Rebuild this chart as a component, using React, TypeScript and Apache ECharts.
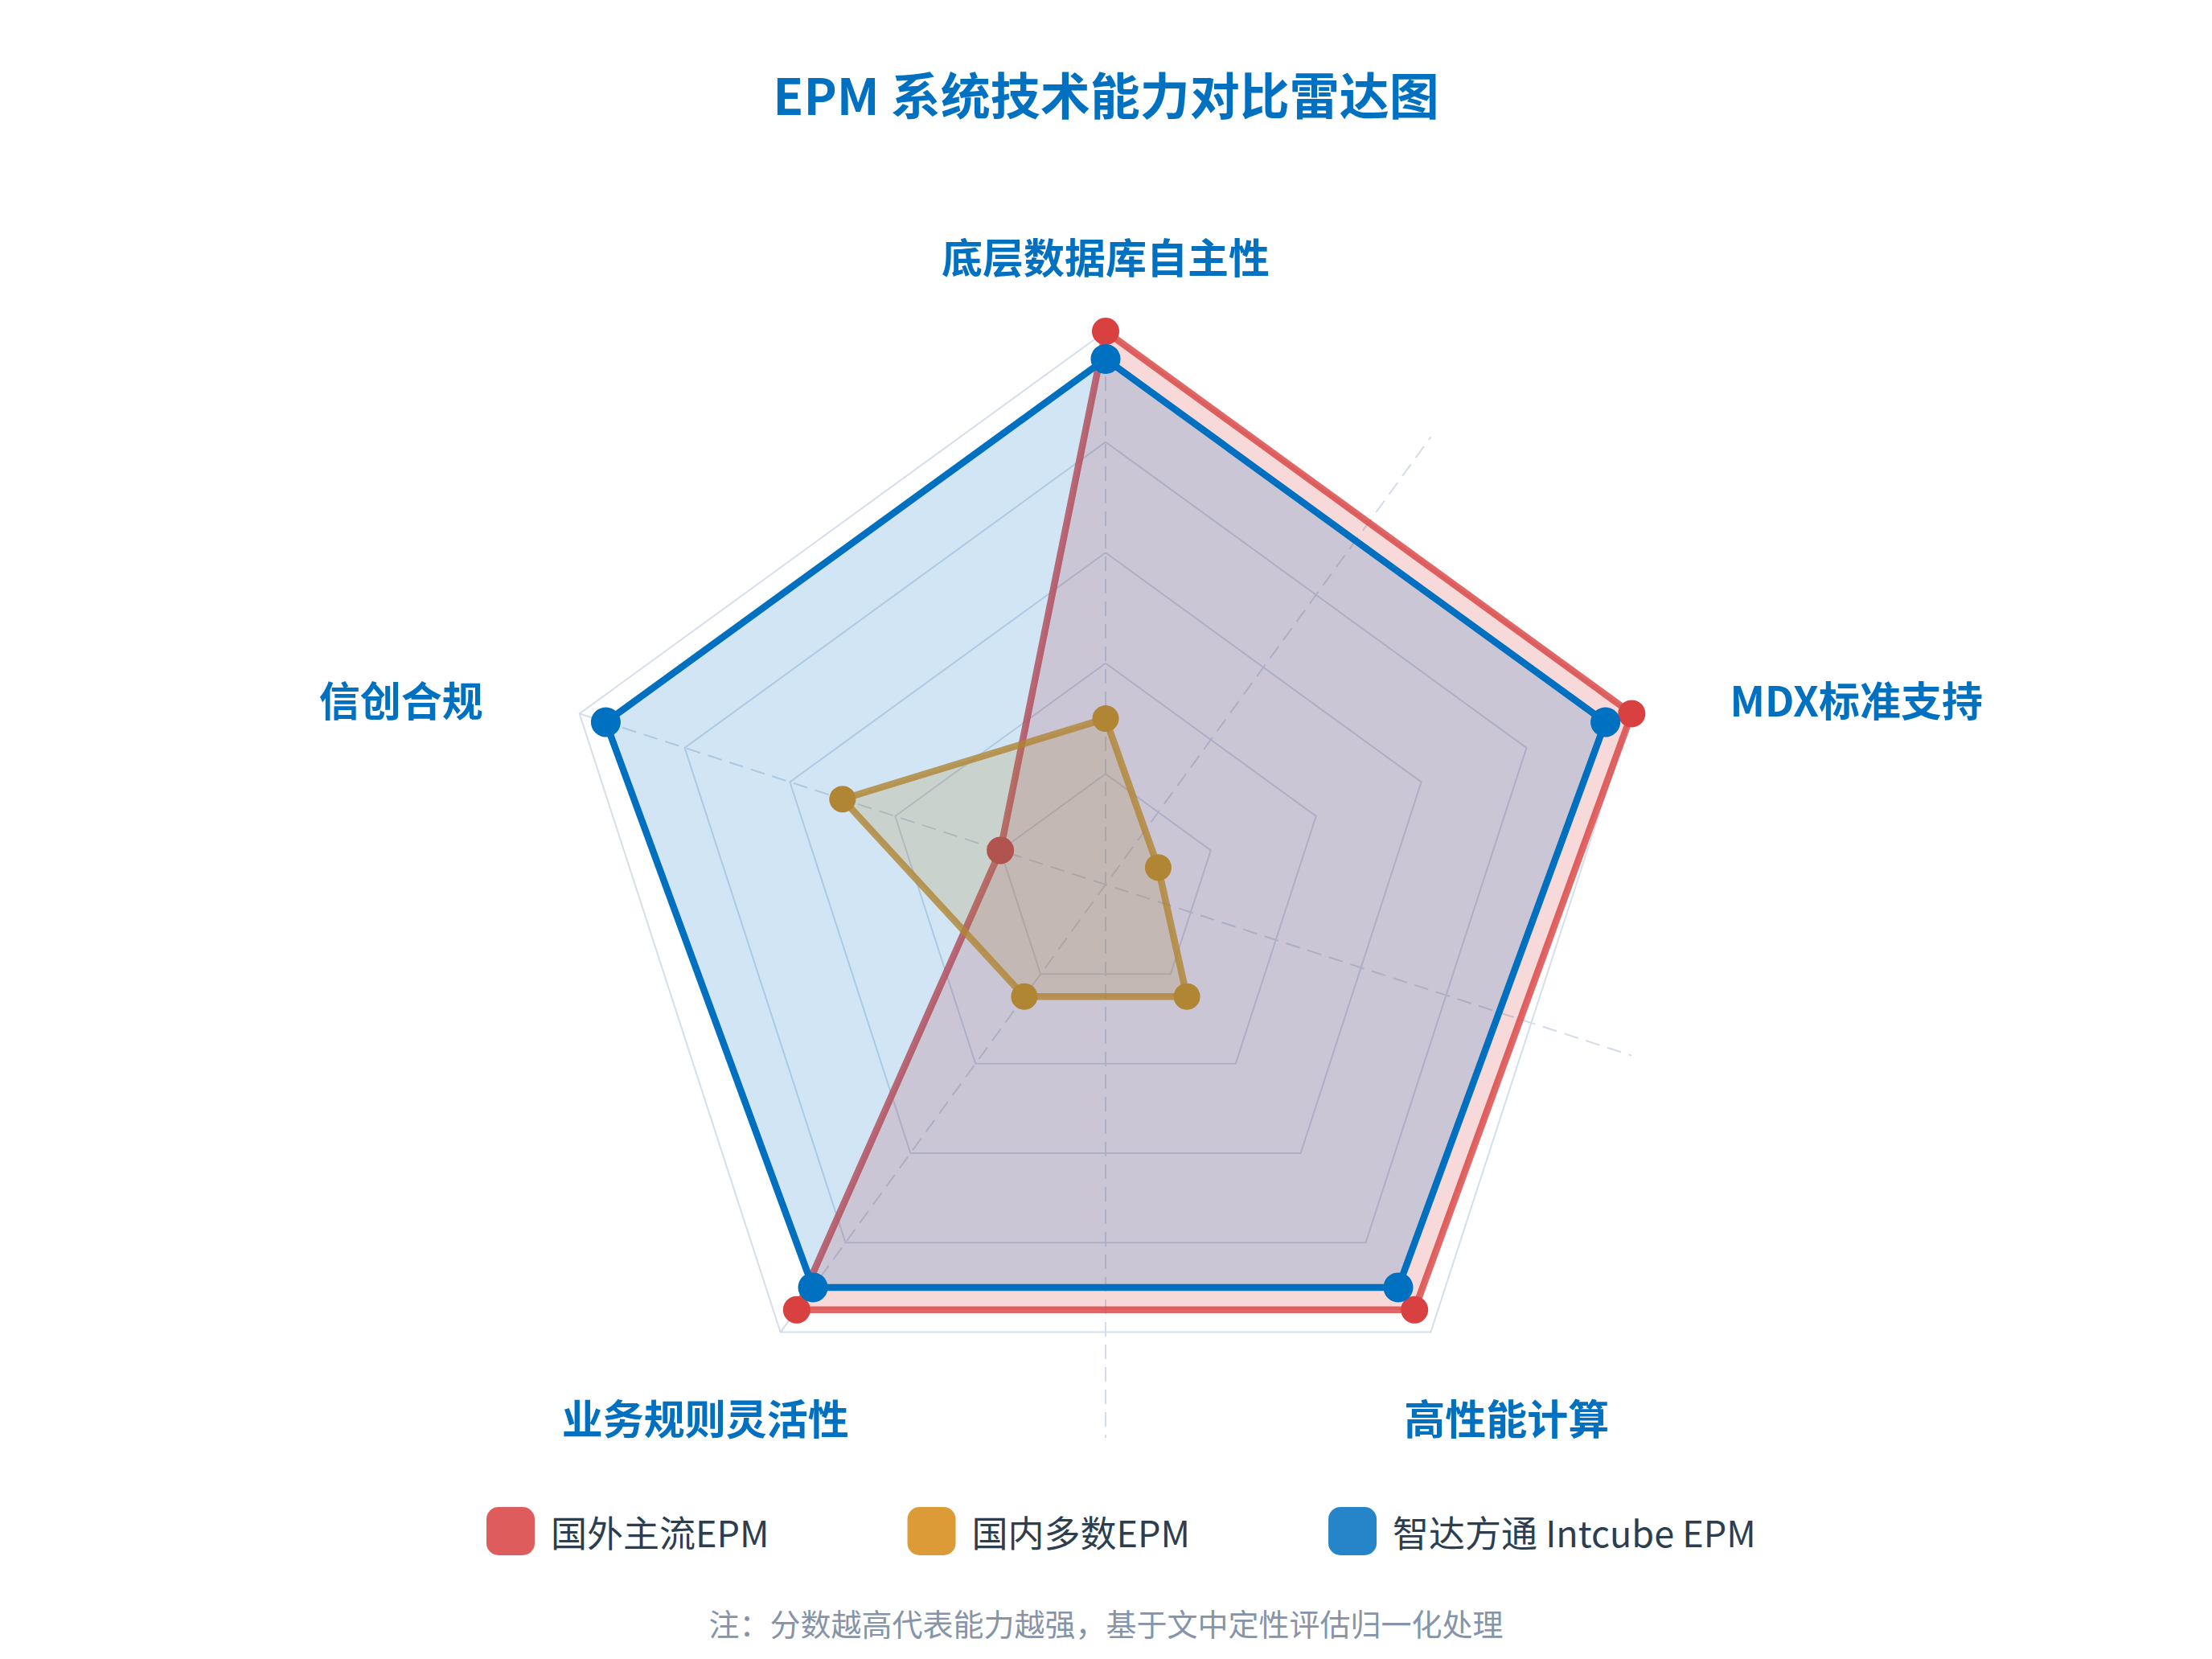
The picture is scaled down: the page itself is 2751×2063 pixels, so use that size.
import React, { useEffect, useRef } from 'react';
import * as echarts from 'echarts';

// indicators in the order the radar lays them out (counter-clockwise from top)
const indicators = ['底层数据库自主性', '信创合规', '业务规则灵活性', '高性能计算', 'MDX标准支持'];
const seriesNames = ['国外主流EPM', '国内多数EPM', '智达方通 Intcube EPM'];
const foreignScores = [100, 20, 95, 95, 100];
const domesticScores = [30, 50, 25, 25, 10];
const intcubeScores = [95, 95, 90, 90, 95];
const maxScore = 100;
// dashed guide diameters, as [from, to] angles in degrees
const guideAngles = [
  [90, 270],
  [162, 342],
  [234, 54],
];

const titleText = 'EPM 系统技术能力对比雷达图';
const noteText = '注：分数越高代表能力越强，基于文中定性评估归一化处理';

const FONT = '"Noto Sans CJK SC", "Noto Sans", sans-serif';
const CENTER = [1375, 1100];
const RADIUS = 688;

// which rich style each axis name uses
const nameKey: Record<string, string> = {
  底层数据库自主性: 't',
  信创合规: 'l',
  业务规则灵活性: 'bl',
  高性能计算: 'br',
  MDX标准支持: 'r',
};

const nameStyle = (padding: number[]) => ({
  fontSize: 51,
  fontWeight: 'bold',
  color: '#0070c0',
  fontFamily: FONT,
  padding,
});

const App: React.FC = () => {
  const chartRef = useRef<HTMLDivElement | null>(null);

  useEffect(() => {
    document.body.style.margin = '0';
    if (!chartRef.current) return;
    const chart = echarts.init(chartRef.current, undefined, { renderer: 'svg' });

    // each series sits on its own z so later fills cover earlier points
    const radarSeries = (
      name: string,
      values: number[],
      color: string,
      size: number,
      lineOpacity: number,
      areaOpacity: number,
      z: number
    ) => ({
      type: 'radar',
      name,
      symbol: 'circle',
      symbolSize: size,
      itemStyle: { color },
      lineStyle: { color, width: 8.5, opacity: lineOpacity },
      areaStyle: { color, opacity: areaOpacity },
      data: [{ name, value: values }],
      z,
    });

    const guides = guideAngles.map((pair, i) => ({
      type: 'line',
      name: `guide${i}`,
      coordinateSystem: 'polar',
      silent: true,
      symbol: 'none',
      z: 1,
      lineStyle: { color: '#d3dce8', width: 2, type: [18, 10] },
      data: pair.map((a) => [maxScore, a]),
    }));

    const option = {
      animation: false,
      backgroundColor: '#ffffff',
      title: [
        {
          text: titleText,
          left: 'center',
          top: 80,
          textStyle: { fontSize: 62, fontWeight: 'bold', color: '#0070c0', fontFamily: FONT },
        },
        {
          text: noteText,
          left: 'center',
          top: 1993,
          textStyle: { fontSize: 38, fontWeight: 'normal', color: '#8594a8', fontFamily: FONT },
        },
      ],
      legend: {
        data: seriesNames,
        left: 600,
        top: 1869,
        itemWidth: 60,
        itemHeight: 60,
        itemGap: 172,
        icon: 'roundRect',
        itemStyle: { opacity: 0.85, borderWidth: 0 },
        textStyle: { fontSize: 45, color: '#2c3e50', fontFamily: FONT, padding: [0, 0, 0, 15] },
      },
      polar: { center: CENTER, radius: RADIUS },
      angleAxis: { type: 'value', min: 0, max: 360, startAngle: 0, clockwise: false, show: false },
      radiusAxis: { type: 'value', min: 0, max: maxScore, show: false },
      radar: {
        center: CENTER,
        radius: RADIUS,
        startAngle: 90,
        shape: 'polygon',
        splitNumber: 5,
        indicator: indicators.map((name) => ({ name, min: 0, max: maxScore })),
        nameGap: 94,
        axisName: {
          align: 'center',
          verticalAlign: 'middle',
          formatter: (name: string) => `{${nameKey[name]}|${name}}`,
          rich: {
            t: nameStyle([0, 0, 0, 0]),
            l: nameStyle([22, 265, 0, 0]),
            r: nameStyle([22, 0, 0, 380]),
            bl: nameStyle([58, 76, 0, 0]),
            br: nameStyle([58, 0, 0, 78]),
          },
        },
        axisLine: { show: false },
        axisTick: { show: false },
        axisLabel: { show: false },
        splitArea: { show: false },
        splitLine: { lineStyle: { color: '#d5dee9', width: 2 } },
      },
      series: [
        ...guides,
        radarSeries(seriesNames[0], foreignScores, '#d94040', 34, 0.8, 0.2, 2),
        radarSeries(seriesNames[1], domesticScores, '#d78a14', 33, 0.8, 0.2, 3),
        radarSeries(seriesNames[2], intcubeScores, '#0070c0', 37, 1, 0.18, 4),
      ],
    };

    chart.setOption(option as any);

    const handleResize = () => chart.resize();
    window.addEventListener('resize', handleResize);
    return () => {
      window.removeEventListener('resize', handleResize);
      chart.dispose();
    };
  }, []);

  return <div ref={chartRef} style={{ width: '2751px', height: '2063px' }} />;
};

export default App;
